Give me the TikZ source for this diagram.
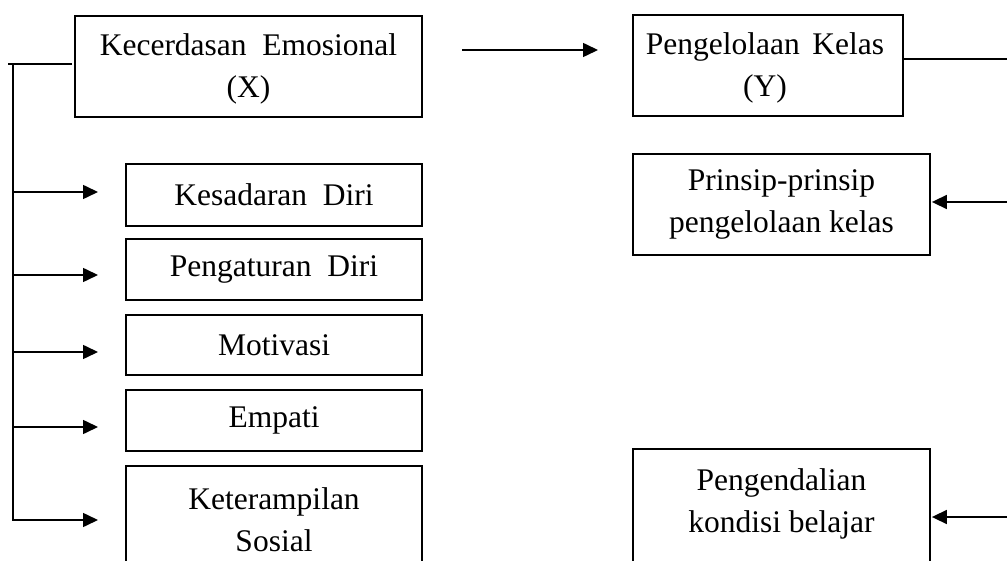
\documentclass[tikz,border=0pt]{standalone}
\usepackage{fontspec}
\setmainfont{Liberation Serif}
\usetikzlibrary{arrows.meta}
\begin{document}
\begin{tikzpicture}[x=1pt,y=-1pt,
  box/.style={draw,line width=1.8pt,inner sep=0pt,align=center,font=\fontsize{31.5}{42}\selectfont},
  lbl/.style={inner sep=0pt,align=center,font=\fontsize{31.5}{42}\selectfont},
  ln/.style={line width=1.6pt},
  arr/.style={line width=1.6pt,-{Triangle[length=15pt,width=14pt]}}]
\useasboundingbox (0,0) rectangle (1007,561);
\begin{scope}
\clip (0,0) rectangle (1007,561);
% main boxes
\node[box,minimum width=347pt,minimum height=101pt] (X) at (248.5,66.5) {};
\node[lbl] (Xt) at (248.5,69) {Kecerdasan\ \ Emosional\\(X)};
\node[box,minimum width=270pt,minimum height=101pt] (Y) at (768,65.5) {};
\node[lbl] (Yt) at (765,68) {Pengelolaan\hspace{0.4em}Kelas\\(Y)};
% left boxes
\node[box,minimum width=296pt,minimum height=62pt] (K1) at (274,195) {Kesadaran\ \ Diri};
\node[box,minimum width=296pt,minimum height=61pt] (K2) at (274,269.5) {Pengaturan\ \ Diri};
\node[box,minimum width=296pt,minimum height=60pt] (K3) at (274,345) {Motivasi};
\node[box,minimum width=296pt,minimum height=61pt] (K4) at (274,420.5) {Empati};
\node[box,minimum width=296pt,minimum height=124pt] (K5) at (274,528) {};
\node[lbl] (K5t) at (274,520) {Keterampilan\\Sosial};
% right boxes
\node[box,minimum width=297pt,minimum height=101pt] (P1) at (781.5,204.5) {Prinsip-prinsip\\pengelolaan kelas};
\node[box,minimum width=297pt,minimum height=141pt] (P2) at (781.5,519.5) {};
\node[lbl] (P2t) at (781.5,504) {Pengendalian\\kondisi belajar};
% coordinates
\coordinate (lt) at (8,64);
\coordinate (xw) at (72,64);
\coordinate (sb) at (13,521);
\coordinate (st) at (13,64);
\coordinate (a1) at (98,192);
\coordinate (a2) at (98,275);
\coordinate (a3) at (98,352);
\coordinate (a4) at (98,427);
\coordinate (a5) at (98,520);
\coordinate (ts) at (462,50);
\coordinate (te) at (598,50);
\coordinate (re) at (1010,59);
\coordinate (r1) at (1010,202);
\coordinate (r2) at (1010,517);
% connectors
\draw[ln] (xw) -- (lt);
\draw[ln] (st) -- (sb);
\draw[arr] (st |- a1) -- (a1);
\draw[arr] (st |- a2) -- (a2);
\draw[arr] (st |- a3) -- (a3);
\draw[arr] (st |- a4) -- (a4);
\draw[arr] (st |- a5) -- (a5);
\draw[arr] (ts) -- (te);
\draw[ln] (Y.east |- re) -- (re);
\draw[arr] (r1) -- ([xshift=1pt]P1.east |- r1);
\draw[arr] (r2) -- ([xshift=1pt]P2.east |- r2);
\end{scope}
\end{tikzpicture}
\end{document}
